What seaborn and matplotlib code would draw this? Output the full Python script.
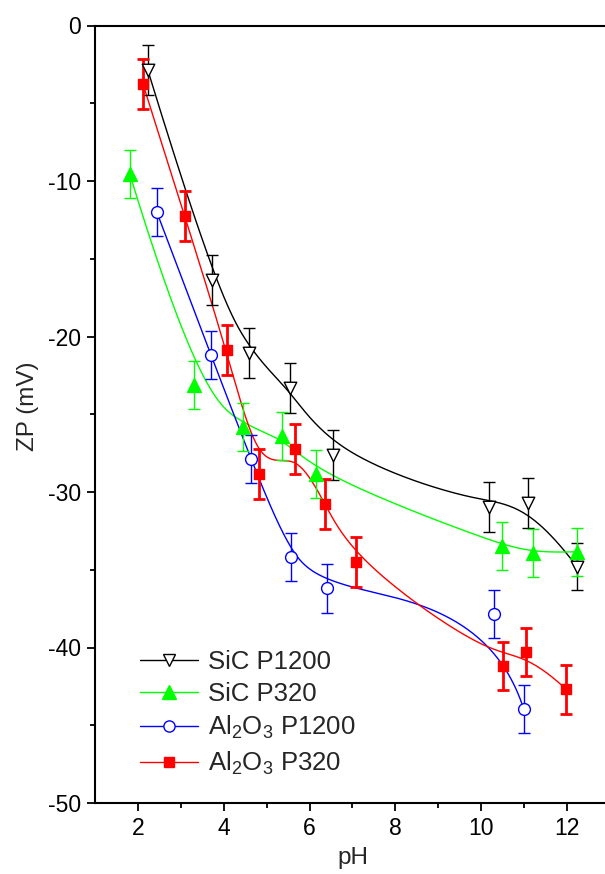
import numpy as np
import matplotlib
matplotlib.use("Agg")
import matplotlib.pyplot as plt
from matplotlib.lines import Line2D
import seaborn as sns
import pandas as pd

# ---- data ----
sic1200_x = [2.23, 3.73, 4.58, 5.54, 6.55, 10.17, 11.10, 12.23]
sic1200_y = [-2.86, -16.37, -21.08, -23.33, -27.6, -30.98, -30.69, -34.8]
sic1200_e = [1.6, 1.6, 1.6, 1.6, 1.6, 1.6, 1.6, 1.5]

sic320_x = [1.81, 3.31, 4.44, 5.36, 6.16, 10.48, 11.20, 12.23]
sic320_y = [-9.55, -23.1, -25.84, -26.4, -28.86, -33.47, -33.94, -33.84]
sic320_e = [1.55, 1.55, 1.55, 1.55, 1.55, 1.55, 1.55, 1.55]

al1200_x = [2.44, 3.70, 4.63, 5.56, 6.40, 10.29, 10.99]
al1200_y = [-12.0, -21.19, -27.9, -34.16, -36.2, -37.87, -43.97]
al1200_e = [1.55, 1.55, 1.55, 1.55, 1.55, 1.55, 1.55]

al320_x = [2.12, 3.09, 4.08, 4.82, 5.66, 6.36, 7.07, 10.50, 11.04, 11.98]
al320_y = [-3.78, -12.25, -20.87, -28.86, -27.25, -30.77, -34.48, -41.19, -40.29, -42.69]
al320_e = [1.6, 1.6, 1.6, 1.6, 1.6, 1.6, 1.6, 1.57, 1.57, 1.57]

labels = ["SiC P1200", "SiC P320", r"Al$_2$O$_3$ P1200", r"Al$_2$O$_3$ P320"]
colors = ["#000000", "#00FF00", "#0000FF", "#FF0000"]
markers = ["v", "^", "o", "s"]
filled = [False, True, False, True]
msizes = [9, 10, 8.5, 7.5]
ebw = [1.0, 1.0, 1.0, 2.0]

series = [
    (sic1200_x, sic1200_y, sic1200_e),
    (sic320_x, sic320_y, sic320_e),
    (al1200_x, al1200_y, al1200_e),
    (al320_x, al320_y, al320_e),
]

sns.set_style("ticks")
plt.rcParams["font.family"] = ["Liberation Sans", "DejaVu Sans"]
plt.rcParams["mathtext.fontset"] = "custom"
plt.rcParams["mathtext.rm"] = "Liberation Sans"
plt.rcParams["mathtext.it"] = "Liberation Sans"
plt.rcParams["axes.unicode_minus"] = False


def bspline(xs, ys, n=400, k=3):
    """Clamped uniform B-spline with the data points as control points."""
    P = np.column_stack([xs, ys])
    m = len(P)
    kk = min(k, m - 1)
    knots = np.concatenate([np.zeros(kk), np.arange(m - kk + 1), np.full(kk, m - kk)]).astype(float)
    t = np.linspace(0, m - kk, n)
    t[-1] -= 1e-9

    def N(i, d):
        if d == 0:
            return ((knots[i] <= t) & (t < knots[i + 1])).astype(float)
        out = np.zeros_like(t)
        den1 = knots[i + d] - knots[i]
        den2 = knots[i + d + 1] - knots[i + 1]
        if den1 > 0:
            out += (t - knots[i]) / den1 * N(i, d - 1)
        if den2 > 0:
            out += (knots[i + d + 1] - t) / den2 * N(i + 1, d - 1)
        return out

    B = np.column_stack([N(i, kk) for i in range(m)])
    C = B @ P
    return C[:, 0], C[:, 1]


W, H = 605, 874
FS_TICK = 16.5
FS_LAB = 17.5
FS_LEG = 18.5
fig = plt.figure(figsize=(W / 100, H / 100), dpi=100)
ax = fig.add_axes([95 / W, (H - 803) / H, (610 - 95) / W, (803 - 25.5) / H])

for (xs, ys, es), c, mk, fl, ms, lw, lab in zip(series, colors, markers, filled, msizes, ebw, labels):
    cx, cy = bspline(xs, ys)
    ax.plot(cx, cy, color=c, lw=1.0, zorder=2)
    ax.errorbar(xs, ys, yerr=es, fmt="none", ecolor=c, elinewidth=lw, capsize=4.5,
                capthick=lw, zorder=3)
    df = pd.DataFrame({"x": xs, "y": ys})
    sns.scatterplot(data=df, x="x", y="y", ax=ax, marker=mk, s=ms ** 2,
                    color=c if fl else "white", edgecolor=c, linewidth=1.0,
                    zorder=4, legend=False)

ax.set_xlim(1, 13)
ax.set_ylim(-50, 0)
ax.set_xticks([2, 4, 6, 8, 10, 12])
ax.set_xticks([3, 5, 7, 9, 11], minor=True)
ax.set_yticks([0, -10, -20, -30, -40, -50])
ax.set_yticks([-5, -15, -25, -35, -45], minor=True)
ax.tick_params(which="major", direction="out", length=6, width=1.3, labelsize=FS_TICK, pad=4,
               color="black", labelcolor="black")
ax.tick_params(which="minor", direction="out", length=3.5, width=1.3, color="black")
for s in ["left", "bottom", "top", "right"]:
    ax.spines[s].set_linewidth(1.5)
    ax.spines[s].set_color("black")
ax.set_xlabel("pH", fontsize=FS_LAB, labelpad=5)
ax.set_ylabel("ZP (mV)", fontsize=FS_LAB)
ax.yaxis.set_label_coords(-0.108, 0.51)

handles = [Line2D([0], [0], color=c, lw=1.0, marker=mk, markersize=ms * 0.95,
                  markerfacecolor=(c if fl else "white"), markeredgecolor=c)
           for c, mk, fl, ms in zip(colors, markers, filled, msizes)]
leg = ax.legend(handles, labels, loc="upper left", bbox_to_anchor=(127 / W, 1 - 637 / H),
                bbox_transform=fig.transFigure, frameon=False, fontsize=FS_LEG,
                handlelength=2.25, handletextpad=0.4, labelspacing=0.32, borderpad=0)

fig.savefig("out.png", dpi=100)
